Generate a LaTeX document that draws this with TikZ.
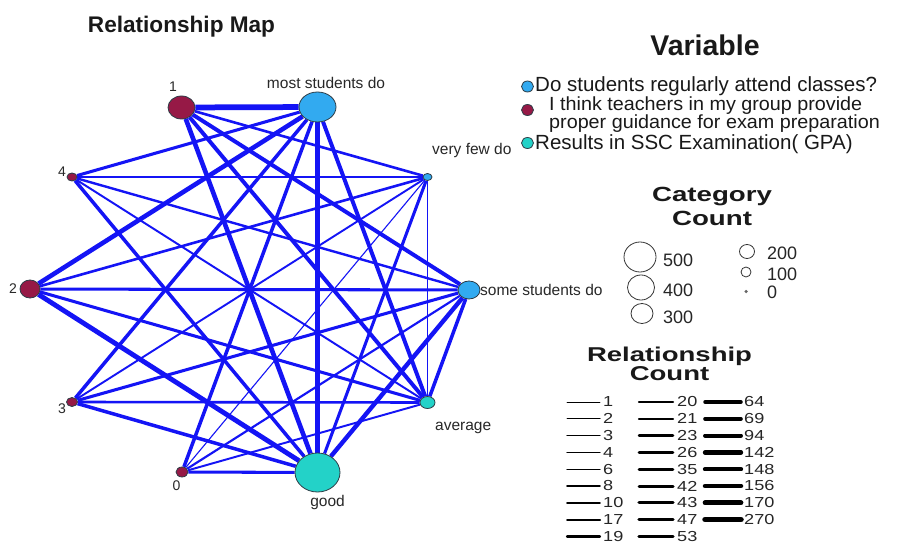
\documentclass[tikz,border=0pt]{standalone}
\usepackage{fontspec}
\usepackage{graphicx}
\setmainfont{Liberation Sans}
\usetikzlibrary{shapes.geometric,backgrounds}
\definecolor{catA}{RGB}{50,170,240}
\definecolor{catB}{RGB}{150,25,70}
\definecolor{catC}{RGB}{35,210,200}
\definecolor{edgeblue}{RGB}{20,20,245}
\definecolor{outl}{RGB}{45,60,70}
\definecolor{lbltxt}{RGB}{40,40,40}
\newcommand\hstretch[2]{\scalebox{#1}[1]{#2}}
\begin{document}
\begin{tikzpicture}[x=1pt,y=-1pt,
  cat/.style={ellipse, draw=outl, line width=0.8pt, inner sep=0pt},
  lbl/.style={font=\fontsize{15.5}{16}\selectfont, text=lbltxt, inner sep=0pt},
  dlbl/.style={font=\fontsize{14}{15}\selectfont, text=lbltxt, inner sep=0pt},
  ttl/.style={font=\fontsize{#1}{#1}\bfseries, text=black!90, inner sep=0pt},
  leg/.style={font=\fontsize{20.5}{21}\selectfont, text=black!90, inner sep=0pt, anchor=base west},
  legs/.style={font=\fontsize{19}{19}\selectfont, text=black!90, inner sep=0pt, anchor=base west},
  cnt/.style={font=\fontsize{18}{19}\selectfont, text=black!85, inner sep=0pt, anchor=base west},
  rcnt/.style={font=\fontsize{14.5}{15}\selectfont, text=black!85, inner sep=0pt, anchor=west},
  ew/.style={draw=edgeblue, line width=#1},
  rl/.style={draw=black, line width=#1, line cap=round},
  lc/.style={ellipse, draw=outl, line width=0.8pt, inner sep=0pt, minimum width=12pt, minimum height=11pt},
]
\useasboundingbox (0,0) rectangle (904,545);

% titles
\node[ttl=22.6, anchor=base] (tmap) at (181.5,33) {Relationship Map};
\node[ttl=28.5, anchor=base] (tvar) at (705,56) {Variable};

% graph labels
\node[dlbl] (l1) at (173,87) {1};
\node[lbl, anchor=base] (lmost) at (326,89) {most students do};
\node[lbl, anchor=base west] (lfew) at (432,155) {very few do};
\node[dlbl] (l4) at (62,172) {4};
\node[dlbl] (l2) at (13,289) {2};
\node[lbl, anchor=base west] (lsome) at (480,295.5) {some students do};
\node[dlbl] (l3) at (62,408.5) {3};
\node[lbl, anchor=base west] (lavg) at (435,430) {average};
\node[dlbl] (l0) at (176.5,485.7) {0};
\node[lbl, anchor=base] (lgood) at (327.5,506) {good};

% category nodes
\node[cat, fill=catA, minimum width=37pt, minimum height=30pt] (amost) at (317.5,107) {};
\node[cat, fill=catA, minimum width=9pt, minimum height=7pt] (afew) at (427.5,177) {};
\node[cat, fill=catA, minimum width=22pt, minimum height=18pt] (asome) at (469,290) {};
\node[cat, fill=catB, minimum width=27pt, minimum height=23pt] (b1) at (181.5,107.5) {};
\node[cat, fill=catB, minimum width=10pt, minimum height=8pt] (b4) at (72,177) {};
\node[cat, fill=catB, minimum width=20pt, minimum height=18pt] (b2) at (30,289) {};
\node[cat, fill=catB, minimum width=11pt, minimum height=9pt] (b3) at (72,402) {};
\node[cat, fill=catB, minimum width=12pt, minimum height=10pt] (b0) at (182,472) {};
\node[cat, fill=catC, minimum width=45pt, minimum height=39pt] (cgood) at (317.5,472.5) {};
\node[cat, fill=catC, minimum width=15pt, minimum height=12pt] (cavg) at (427.5,402.5) {};

\begin{pgfonlayer}{background}
\fill[white] (0,0) rectangle (904,545);
% A-B
\draw[ew=5.75pt] (b1) -- (amost);
\draw[ew=2.6pt] (b1) -- (afew);
\draw[ew=3.95pt] (b1) -- (asome);
\draw[ew=4.6pt] (b2) -- (amost);
\draw[ew=2.6pt] (b2) -- (afew);
\draw[ew=3.05pt] (b2) -- (asome);
\draw[ew=3.5pt] (b3) -- (amost);
\draw[ew=1.9pt] (b3) -- (afew);
\draw[ew=3.05pt] (b3) -- (asome);
\draw[ew=3.05pt] (b4) -- (amost);
\draw[ew=2.6pt] (b4) -- (afew);
\draw[ew=2.4pt] (b4) -- (asome);
\draw[ew=3.5pt] (b0) -- (amost);
\draw[ew=1.1pt] (b0) -- (afew);
\draw[ew=2.15pt] (b0) -- (asome);
% A-C
\draw[ew=5.75pt] (amost) -- (cgood);
\draw[ew=3.95pt] (amost) -- (cavg);
\draw[ew=3.05pt] (afew) -- (cgood);
\draw[ew=1.8pt] (afew) -- (cavg);
\draw[ew=4.4pt] (asome) -- (cgood);
\draw[ew=3.5pt] (asome) -- (cavg);
% B-C
\draw[ew=4.6pt] (b1) -- (cgood);
\draw[ew=3.95pt] (b1) -- (cavg);
\draw[ew=4.85pt] (b2) -- (cgood);
\draw[ew=3.05pt] (b2) -- (cavg);
\draw[ew=3.5pt] (b3) -- (cgood);
\draw[ew=2.6pt] (b3) -- (cavg);
\draw[ew=3.5pt] (b4) -- (cgood);
\draw[ew=1.95pt] (b4) -- (cavg);
\draw[ew=3.05pt] (b0) -- (cgood);
\draw[ew=1.95pt] (b0) -- (cavg);
\end{pgfonlayer}

% variable legend
\node[lc, fill=catA] (kA) at (527.5,86.5) {};
\node[lc, fill=catB] (kB) at (527.5,110) {};
\node[lc, fill=catC] (kC) at (527.5,143) {};
\node[leg] (kAt) at (535,92) {Do students regularly attend classes?};
\node[legs] (kBt1) at (549,110.5) {\hstretch{1.04}{I think teachers in my group provide}};
\node[legs] (kBt2) at (549,129) {\hstretch{1.04}{proper guidance for exam preparation}};
\node[leg] (kCt) at (535,150) {Results in SSC Examination( GPA)};

% category count legend
\node[ttl=20.5, anchor=base] (tcat1) at (712,202) {\hstretch{1.35}{Category}};
\node[ttl=20.5, anchor=base] (tcat2) at (712,226) {\hstretch{1.35}{Count}};
\node[ellipse, draw=black!80, line width=0.8pt, inner sep=0pt, minimum width=32pt, minimum height=30pt] (s500) at (640,257) {};
\node[ellipse, draw=black!80, line width=0.8pt, inner sep=0pt, minimum width=27pt, minimum height=25pt] (s400) at (641,287.5) {};
\node[ellipse, draw=black!80, line width=0.8pt, inner sep=0pt, minimum width=22pt, minimum height=20pt] (s300) at (642,313.5) {};
\node[ellipse, draw=black!80, line width=0.8pt, inner sep=0pt, minimum width=15pt, minimum height=14pt] (s200) at (747,251.5) {};
\node[ellipse, draw=black!80, line width=0.8pt, inner sep=0pt, minimum width=10pt, minimum height=10pt] (s100) at (746,272) {};
\node[circle, fill=black!60, inner sep=0pt, minimum size=3.5pt] (s0) at (746,291.5) {};
\node[cnt] (n500) at (663,266) {500};
\node[cnt] (n400) at (663,296) {400};
\node[cnt] (n300) at (663,323) {300};
\node[cnt] (n200) at (767,259) {200};
\node[cnt] (n100) at (767,280) {100};
\node[cnt] (n0) at (767,298.5) {0};

% relationship count legend
\node[ttl=20, anchor=base] (trel1) at (669.5,361) {\hstretch{1.375}{Relationship}};
\node[ttl=20, anchor=base] (trel2) at (669.5,380) {\hstretch{1.375}{Count}};
\foreach \v/\w [count=\i from 0] in {1/0.8,2/1.0,3/1.1,4/1.2,6/1.4,8/1.6,10/1.8,17/2.0,19/2.2}{
  \coordinate (ra\i) at (567,402+16.8*\i);
  \coordinate (rb\i) at (600,402+16.8*\i);
  \draw[rl=\w pt] (ra\i) -- (rb\i);
  \node[rcnt] (rn\i) at (603,402+16.8*\i) {\hstretch{1.25}{\v}};
}
\foreach \v/\w [count=\i from 0] in {20/2.3,21/2.4,23/2.5,26/2.6,35/2.8,42/3.0,43/3.1,47/3.2,53/3.3}{
  \coordinate (sa\i) at (639,402+16.8*\i);
  \coordinate (sb\i) at (673,402+16.8*\i);
  \draw[rl=\w pt] (sa\i) -- (sb\i);
  \node[rcnt] (sn\i) at (677,402+16.8*\i) {\hstretch{1.25}{\v}};
}
\foreach \v/\w [count=\i from 0] in {64/3.5,69/3.6,94/3.9,142/4.3,148/4.4,156/4.5,170/4.7,270/5.5}{
  \coordinate (ta\i) at (705,402+16.8*\i);
  \coordinate (tb\i) at (741,402+16.8*\i);
  \draw[rl=\w pt] (ta\i) -- (tb\i);
  \node[rcnt] (tn\i) at (744,402+16.8*\i) {\hstretch{1.25}{\v}};
}
\end{tikzpicture}
\end{document}
